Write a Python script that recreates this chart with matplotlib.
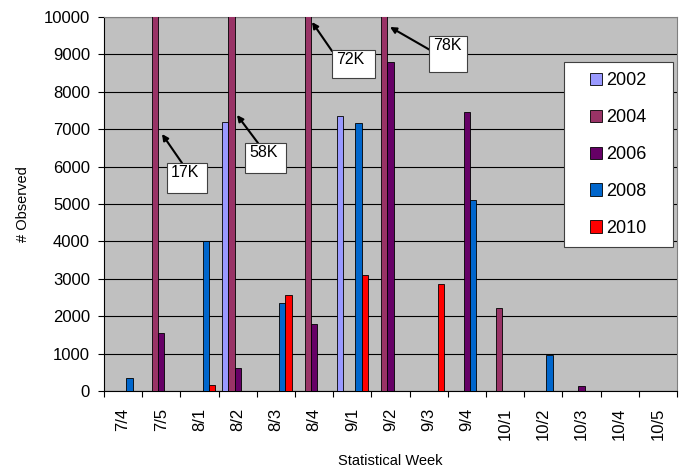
import matplotlib
matplotlib.use("Agg")
import matplotlib.pyplot as plt
from matplotlib.patches import Rectangle
import numpy as np

plt.rcParams['font.family'] = ['Liberation Sans', 'DejaVu Sans']

weeks = ["7/4", "7/5", "8/1", "8/2", "8/3", "8/4", "9/1", "9/2", "9/3", "9/4",
         "10/1", "10/2", "10/3", "10/4", "10/5"]
years = ["2002", "2004", "2006", "2008", "2010"]
colors = ["#9999FF", "#993366", "#660066", "#0066CC", "#FF0000"]

v2002 = [0, 0, 0, 7200, 0, 0, 7350, 0, 0, 0, 0, 0, 0, 0, 0]
v2004 = [0, 17000, 0, 58000, 0, 72000, 0, 78000, 0, 0, 2220, 0, 0, 0, 0]
v2006 = [0, 1550, 0, 620, 0, 1800, 0, 8800, 0, 7470, 0, 0, 130, 0, 0]
v2008 = [350, 0, 4000, 0, 2350, 0, 7170, 0, 0, 5100, 0, 950, 0, 0, 0]
v2010 = [0, 0, 150, 0, 2570, 0, 3100, 0, 2850, 0, 0, 0, 0, 0, 0]
series = [v2002, v2004, v2006, v2008, v2010]

ann_labels = ["17K", "58K", "72K", "78K"]

W, H = 679, 469
L, R, T, B = 104, 677, 17, 391
fig = plt.figure(figsize=(W/100, H/100), dpi=100)
ax = fig.add_axes([L/W, 1-B/H, (R-L)/W, (B-T)/H])
ax.set_facecolor("#C0C0C0")

x = np.arange(len(weeks))
w = 0.165
for i, (vals, c, yr) in enumerate(zip(series, colors, years)):
    ax.bar(x + (i-2)*w, vals, width=w, color=c, edgecolor="black",
           linewidth=0.6, label=yr, zorder=3)

ax.set_xlim(-0.5, len(weeks)-0.5)
ax.set_ylim(0, 10000)
ax.set_yticks(np.arange(0, 10001, 1000))
ax.yaxis.grid(True, color="black", linewidth=0.8, zorder=1)
ax.set_axisbelow(True)

ax.set_xticks(x)
ax.set_xticklabels(weeks, rotation=90, fontsize=12)
ax.tick_params(axis='x', which='major', length=0, pad=12)
ax.set_xticks(np.arange(-0.5, len(weeks), 1), minor=True)
ax.tick_params(axis='x', which='minor', length=4, direction='out', width=0.8)
ax.tick_params(axis='y', labelsize=12, length=4, width=0.8, pad=6)

for s in ['top', 'right']:
    ax.spines[s].set_color("#808080")
ax.spines['left'].set_color("black")
ax.spines['bottom'].set_color("black")

ax.set_ylabel("# Observed", fontsize=10.5, labelpad=10)
ax.set_xlabel("Statistical Week", fontsize=10.5, labelpad=10)

def pa(px, py):
    # pixel -> axes fraction
    return ((px - L)/(R - L), (B - py)/(B - T))

# pixel geometry: box (x0, y0, x1, y1), arrow tail, arrow head
ann_geo = [((167, 163, 207, 193), (182, 163), (162, 134)),
           ((245, 143, 286, 173), (258, 143), (237, 115)),
           ((332, 50, 375, 78), (332, 51), (312, 22)),
           ((429, 36, 467, 72), (430, 50), (390, 27))]
for lab, (box, tail, head) in zip(ann_labels, ann_geo):
    ax.annotate("", xy=pa(*head), xytext=pa(*tail), xycoords="axes fraction",
                textcoords="axes fraction",
                arrowprops=dict(arrowstyle="-|>", color="black", lw=1.5,
                                mutation_scale=9, shrinkA=0, shrinkB=0),
                zorder=5, annotation_clip=False)
    x0, y0 = pa(box[0], box[3])
    x1, y1 = pa(box[2], box[1])
    ax.add_patch(Rectangle((x0, y0), x1-x0, y1-y0, transform=ax.transAxes,
                           fc="white", ec="#404040", lw=0.8, zorder=6, clip_on=False))
    tx, ty = pa(box[0]+4, box[1]+2)
    ax.text(tx, ty, lab, transform=ax.transAxes, fontsize=11.5, ha="left", va="top",
            zorder=7)

# legend frame
lx0, ly0 = pa(564, 247)
lx1, ly1 = pa(673, 62)
ax.add_patch(Rectangle((lx0, ly0), lx1-lx0, ly1-ly0, transform=ax.transAxes,
                       fc="white", ec="#404040", lw=0.8, zorder=8, clip_on=False))
leg = ax.legend(loc="center", bbox_to_anchor=((lx0+lx1)/2, (ly0+ly1)/2),
                fontsize=13, frameon=False,
                handlelength=0.67, handleheight=0.67, handletextpad=0.25,
                labelspacing=1.1, borderpad=0, borderaxespad=0)
leg.set_zorder(9)

fig.savefig("out.png", dpi=100)
